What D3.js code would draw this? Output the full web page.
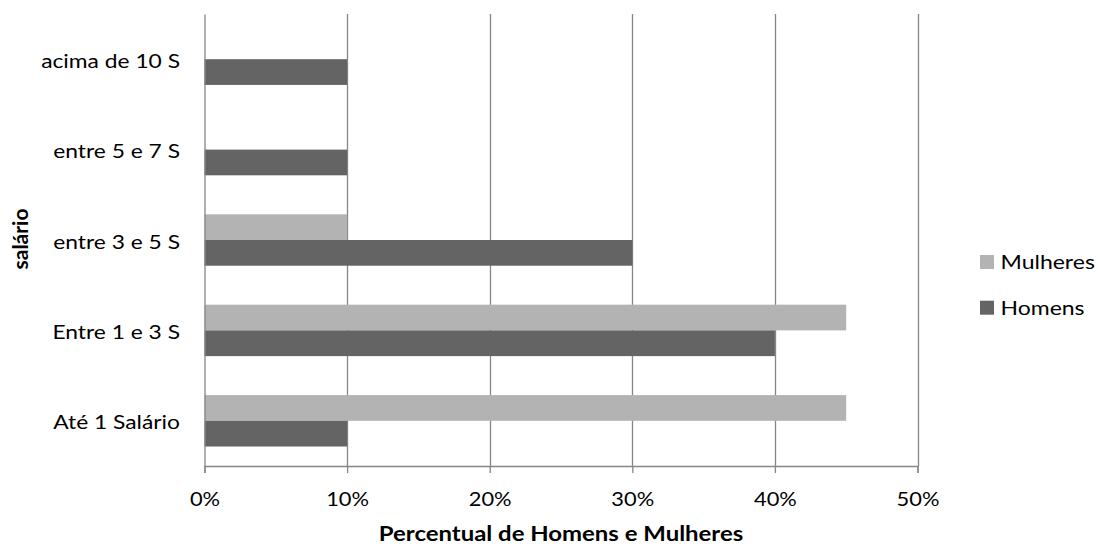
<!DOCTYPE html>
<html>
<head>
<meta charset="utf-8">
<script src="https://cdn.jsdelivr.net/npm/d3@7"></script>
<style>
  html, body { margin: 0; padding: 0; background: #fff; }
  svg { display: block; font-family: Lato, "Open Sans", sans-serif; }
</style>
</head>
<body>
<svg id="chart" width="1099" height="546"></svg>
<script>
// Salary brackets, bottom to top as drawn
const categories = ["Até 1 Salário", "Entre 1 e 3 S", "entre 3 e 5 S", "entre 5 e 7 S", "acima de 10 S"];
const series = ["Mulheres", "Homens"];
// Percent of each group per bracket
const mulheres = [45, 45, 10, 0, 0];
const homens = [10, 40, 30, 10, 10];
const xTicks = [0, 10, 20, 30, 40, 50];

const colors = { Mulheres: "#b3b3b3", Homens: "#646464" };
const gridColor = "#868686";
const FONT = "Lato, 'Open Sans', sans-serif";

const svg = d3.select("#chart");
const margin = { left: 204.5, right: 181.5, top: 14, bottom: 80 };
const W = 1099, H = 546;
const x0 = margin.left, x1 = W - margin.right;
const y0 = margin.top, y1 = H - margin.bottom;

const x = d3.scaleLinear().domain([0, 50]).range([x0, x1]);
// categories run from bottom to top
const y = d3.scaleBand().domain(categories).range([y1, y0])
  .paddingInner(0.431).paddingOuter(0.2155);
const ySub = d3.scaleBand().domain(series).range([0, y.bandwidth()]);

const rows = categories.map((c, i) => ({ cat: c, Mulheres: mulheres[i], Homens: homens[i] }));

// vertical gridlines
svg.append("g").selectAll("line").data(xTicks.slice(1)).join("line")
  .attr("x1", d => Math.round(x(d)) + 0.5).attr("x2", d => Math.round(x(d)) + 0.5)
  .attr("y1", y0).attr("y2", y1)
  .attr("stroke", gridColor).attr("stroke-width", 1.3);

// bars
const groups = svg.append("g").selectAll("g").data(rows).join("g")
  .attr("transform", d => `translate(0,${y(d.cat)})`);
groups.selectAll("rect").data(d => series.map(s => ({ s, v: d[s] }))).join("rect")
  .attr("x", x(0))
  .attr("y", d => ySub(d.s))
  .attr("width", d => x(d.v) - x(0))
  .attr("height", ySub.bandwidth())
  .attr("fill", d => colors[d.s]);

// x axis with outward ticks
const tickSX = 1.15;
const xAxis = svg.append("g").attr("transform", `translate(0,${y1})`)
  .call(d3.axisBottom(x).tickValues(xTicks).tickFormat(d => d + "%").tickSize(7));
xAxis.select(".domain").attr("stroke", gridColor).attr("stroke-width", 1.3);
xAxis.selectAll(".tick line").attr("stroke", gridColor).attr("stroke-width", 1.3);
xAxis.selectAll(".tick text")
  .attr("fill", "#000").attr("y", 39.7).attr("dy", null)
  .attr("transform", `scale(${tickSX},1)`)
  .style("font-size", "19px").style("font-family", FONT);

// y axis line and category labels
const catSX = 1.14;
const yAxis = svg.append("g").attr("transform", `translate(${x0},0)`)
  .call(d3.axisLeft(y).tickSize(0));
yAxis.select(".domain").attr("stroke", gridColor).attr("stroke-width", 1.3);
yAxis.selectAll(".tick text")
  .attr("fill", "#000").attr("x", -24.5 / catSX).attr("y", 8.5).attr("dy", null)
  .attr("transform", `scale(${catSX},1)`)
  .style("font-size", "20px").style("font-family", FONT);

// axis titles
const titleSX = 1.14;
svg.append("g").attr("transform", `translate(${(x0 + x1) / 2},541) scale(${titleSX},1)`)
  .append("text")
  .attr("text-anchor", "middle")
  .style("font-size", "21px").style("font-weight", "bold")
  .text("Percentual de Homens e Mulheres");

svg.append("text")
  .attr("transform", `translate(28,${(y0 + y1) / 2 - 1}) rotate(-90)`)
  .attr("text-anchor", "middle")
  .style("font-size", "21px").style("font-weight", "bold")
  .text("salário");

// legend
const legSX = 1.15;
const legend = svg.append("g").attr("transform", "translate(980,255)");
const items = legend.selectAll("g").data(series).join("g")
  .attr("transform", (d, i) => `translate(0,${i * 45.7})`);
items.append("rect").attr("width", 14).attr("height", 14).attr("fill", d => colors[d]);
items.append("text")
  .attr("transform", `translate(20.5,14) scale(${legSX},1)`)
  .style("font-size", "20px").text(d => d);
</script>
</body>
</html>
